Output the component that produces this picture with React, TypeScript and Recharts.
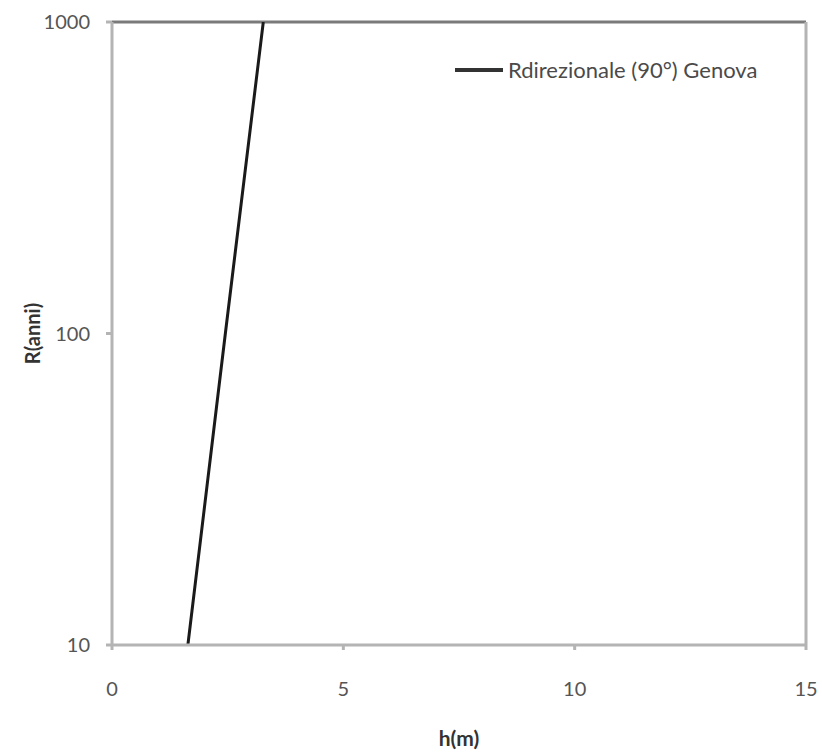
import React from 'react';
import { LineChart, Line, XAxis, YAxis, Legend, ReferenceLine } from 'recharts';

const returnPeriods = [10, 100, 1000];
const heights = [1.64, 2.45, 3.27];
const xTicks = [0, 5, 10, 15];
const yTicks = [10, 100, 1000];
const seriesName = 'Rdirezionale (90°) Genova';

const data = returnPeriods.map((R, i) => ({ R, h: heights[i] }));

const FONT = 'Lato, "Open Sans", sans-serif';
const AXIS = '#b4b4b4';

const LegendContent = () => (
  <div style={{ display: 'flex', alignItems: 'center', fontFamily: FONT, fontSize: 22, color: '#4a4a4a', whiteSpace: 'nowrap' }}>
    <svg width={48} height={10} style={{ marginRight: 5 }}>
      <line x1={0} y1={5} x2={48} y2={5} stroke="#333" strokeWidth={4} />
    </svg>
    <span>{seriesName}</span>
  </div>
);

export default function App() {
  return (
    <div style={{ position: 'absolute', left: 0, top: 0, width: 822, height: 753, background: '#fff' }}>
      <LineChart width={822} height={753} data={data} margin={{ top: 22, right: 16, bottom: 0, left: 0 }}>
        <XAxis
          dataKey="h"
          type="number"
          domain={[0, 15]}
          ticks={xTicks}
          allowDataOverflow
          stroke={AXIS}
          strokeWidth={3}
          tickSize={5}
          tickMargin={32}
          tick={{ fill: '#555', fontFamily: FONT, fontSize: 20 }}
          height={108}
          label={{ value: 'h(m)', position: 'insideBottom', offset: 7, fill: '#333', fontFamily: FONT, fontSize: 21, fontWeight: 'bold' }}
        />
        <YAxis
          dataKey="R"
          scale="log"
          domain={[10, 1000]}
          ticks={yTicks}
          allowDataOverflow
          width={112}
          stroke={AXIS}
          strokeWidth={3}
          tickSize={6}
          tickMargin={16}
          tick={{ fill: '#555', fontFamily: FONT, fontSize: 20 }}
          label={{ value: 'R(anni)', angle: -90, position: 'insideLeft', offset: 33, fill: '#333', fontFamily: FONT, fontSize: 20, fontWeight: 'bold', style: { textAnchor: 'middle' } }}
        />
        <ReferenceLine y={1000} stroke="#7a7a7a" strokeWidth={3} ifOverflow="visible" />
        <ReferenceLine x={15} stroke={AXIS} strokeWidth={3} ifOverflow="visible" />
        <Legend
          verticalAlign="middle"
          align="center"
          wrapperStyle={{ left: 455, top: 56, width: 340 }}
          content={LegendContent}
        />
        <Line
          dataKey="R"
          name={seriesName}
          stroke="#1a1a1a"
          strokeWidth={3}
          dot={false}
          isAnimationActive={false}
        />
      </LineChart>
    </div>
  );
}
